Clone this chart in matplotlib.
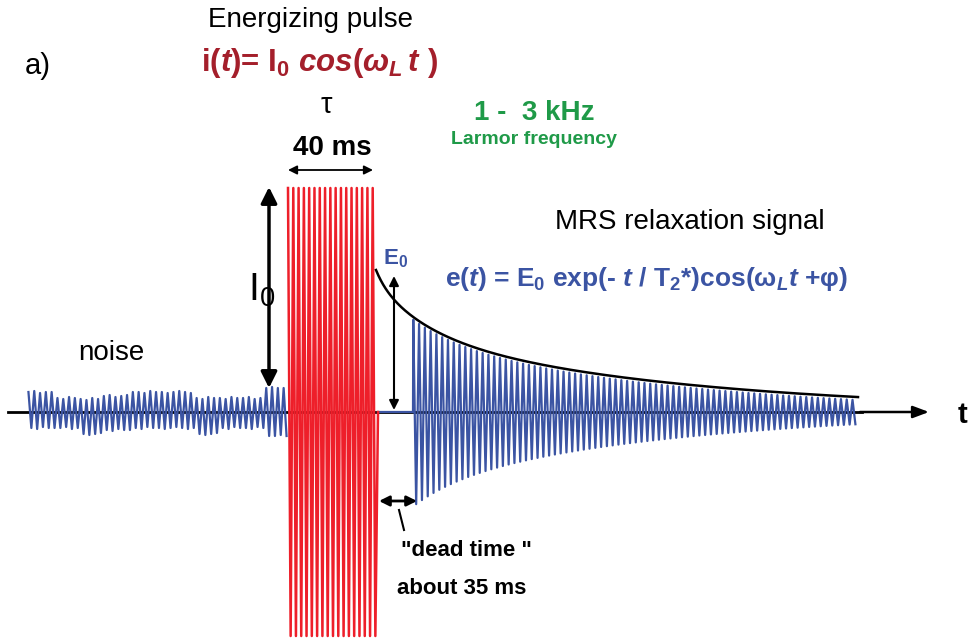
import numpy as np
import matplotlib
matplotlib.use("Agg")
from matplotlib import pyplot as plt

plt.rcParams["font.family"] = ["Liberation Sans", "DejaVu Sans"]
plt.rcParams["mathtext.fontset"] = "custom"
plt.rcParams["mathtext.rm"] = "Liberation Sans:bold"
plt.rcParams["mathtext.it"] = "Liberation Sans:italic:bold"
plt.rcParams["mathtext.bf"] = "Liberation Sans:bold"
plt.rcParams["mathtext.sf"] = "Liberation Sans"

BLUE = "#3b54a3"
RED = "#ee1f2a"
DARKRED = "#a41f2b"
GREEN = "#1f9a48"

# all coordinates in picture pixels (y down)
baseline = 412

# noise: amplitude of each cycle (up / down)
noise_start, noise_period = 27, 5.8
noise_up = [20, 21, 19, 20, 20, 14, 13, 15, 14, 13, 12, 14, 13, 16, 17, 15, 16, 17,
            20, 20, 19, 21, 20, 20, 19, 20, 21, 20, 19, 14, 13, 15, 14, 14, 13, 15,
            14, 14, 15, 13, 14, 24, 25, 24, 24]
noise_down = [16, 17, 15, 16, 16, 16, 15, 17, 16, 22, 23, 22, 21, 18, 19, 17, 18, 18,
              16, 17, 15, 16, 16, 17, 16, 15, 16, 17, 16, 22, 23, 22, 21, 16, 17, 15,
              16, 16, 17, 15, 16, 24, 24, 23, 24]

# energizing pulse
pulse_x0, pulse_x1 = 288, 378
pulse_cycles = 17
pulse_amp = 224

# relaxation signal
env_x0 = 376                 # start of envelope curve
sig_x0, sig_x1 = 413, 858     # after dead time
sig_cycles = 77
E0_slow, T2_slow = 82, 283
E0_fast, T2_fast = 48, 50
E0_vfast, T2_vfast = 12, 10


def envelope(x):
    d = x - env_x0
    return (E0_slow * np.exp(-d / T2_slow) + E0_fast * np.exp(-d / T2_fast)
            + E0_vfast * np.exp(-d / T2_vfast))


fig = plt.figure(figsize=(9.74, 6.42), dpi=100)
ax = fig.add_axes([0, 0, 1, 1])
ax.set_xlim(0, 974)
ax.set_ylim(642, 0)
ax.axis("off")

# time axis
ax.plot([8, 862], [baseline, baseline], color="k", lw=2, zorder=1)
ax.annotate("", xy=(929, baseline), xytext=(860, baseline),
            arrowprops=dict(arrowstyle="-|>,head_width=0.3,head_length=0.8",
                            color="k", lw=1.8, mutation_scale=12,
                            shrinkA=0, shrinkB=0), zorder=1)
ax.text(962, baseline + 3, "t", fontsize=21, fontweight="bold", ha="center", va="center")

# noise zigzag
nx, ny = [], []
for i, (u, d) in enumerate(zip(noise_up, noise_down)):
    x = noise_start + i * noise_period
    nx += [x + noise_period * 0.25, x + noise_period * 0.75]
    ny += [baseline - u, baseline + d]
ax.plot(nx, ny, color=BLUE, lw=1.6, zorder=2)

# pulse zigzag
p_period = (pulse_x1 - pulse_x0) / pulse_cycles
px, py = [], []
for i in range(pulse_cycles):
    x = pulse_x0 + i * p_period
    px += [x, x + p_period / 2]
    py += [baseline - pulse_amp, baseline + pulse_amp]
px.append(pulse_x1)
py.append(baseline)
ax.plot(px, py, color=RED, lw=1.8, zorder=3)

# dead time flat line
ax.plot([pulse_x1, sig_x0], [baseline, baseline], color=BLUE, lw=1.6, zorder=2)

# relaxation signal zigzag
s_period = (sig_x1 - sig_x0) / sig_cycles
sx, sy = [sig_x0], [baseline]
for i in range(sig_cycles):
    x = sig_x0 + i * s_period
    a = envelope(x) - 3
    sx += [x + s_period * 0.05, x + s_period * 0.55]
    sy += [baseline - a, baseline + a]
ax.plot(sx, sy, color=BLUE, lw=1.6, zorder=2)

# envelope
ex = np.linspace(env_x0, sig_x1, 400)
ax.plot(ex, baseline - envelope(ex), color="k", lw=1.8, zorder=4)

# arrows
def double_arrow(p0, p1, lw=1.5, scale=14):
    ax.annotate("", xy=p1, xytext=p0,
                arrowprops=dict(arrowstyle="<|-|>", color="k", lw=lw,
                                mutation_scale=scale, shrinkA=0, shrinkB=0), zorder=5)

double_arrow((269, 187), (269, 388), lw=2.5, scale=24)
double_arrow((288, 170), (373, 170), lw=1.3, scale=13)
double_arrow((394, 276), (394, 410), lw=1.5, scale=14)
double_arrow((379, 501), (417, 501), lw=2.0, scale=15)
ax.plot([399, 404], [510, 530], color="k", lw=1.5)

# texts
ax.text(25, 66, "a)", fontsize=21, va="center")
ax.text(311, 20, "Energizing pulse", fontsize=20, ha="center", va="center")
ax.text(320, 63, r"i($\mathit{t}$)= I$_0$ $\mathit{cos(\omega_{L}\,t\ )}$",
        fontsize=22.5, fontweight="bold", color=DARKRED, ha="center", va="center")
ax.text(326, 105, "τ", fontsize=21, ha="center", va="center")
ax.text(332, 148, "40 ms", fontsize=20, fontweight="bold", ha="center", va="center")
ax.text(534, 113, "1 -  3 kHz", fontsize=20, fontweight="bold", color=GREEN,
        ha="center", va="center")
ax.text(534, 139, "Larmor frequency", fontsize=14, fontweight="bold", color=GREEN,
        ha="center", va="center")
ax.text(262, 290, r"I$\mathsf{_0}$", fontsize=28, ha="center", va="center")
ax.text(396, 259, r"E$_0$", fontsize=16, fontweight="bold", color=BLUE,
        ha="center", va="center")
ax.text(690, 222, "MRS relaxation signal", fontsize=20, ha="center", va="center")
ax.text(647, 279, r"e($\mathit{t}$) = E$_0$ exp(- $\mathit{t}$ / T$_2$*)cos(ω$_L$$\mathit{t}$ +φ)",
        fontsize=19, fontweight="bold", color=BLUE, ha="center", va="center")
ax.text(111, 353, "noise", fontsize=20, ha="center", va="center")
ax.text(466, 551, "\"dead time \"", fontsize=16, fontweight="bold", ha="center", va="center")
ax.text(462, 589, "about 35 ms", fontsize=16, fontweight="bold", ha="center", va="center")

fig.savefig("out.png", dpi=100)
